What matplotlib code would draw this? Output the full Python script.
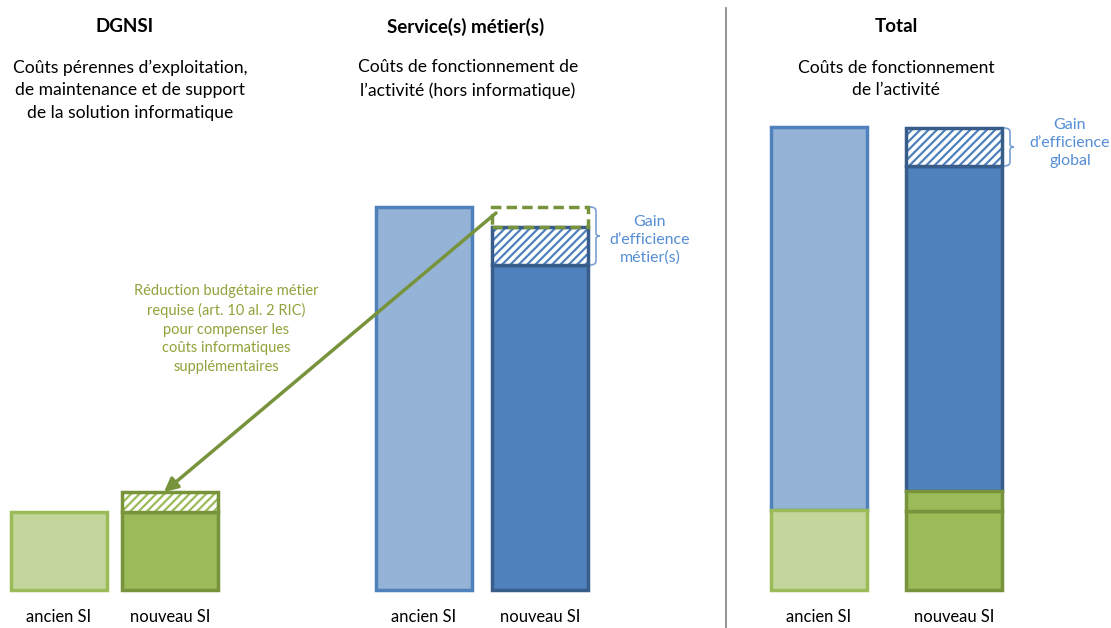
import matplotlib.pyplot as plt
from matplotlib.path import Path
from matplotlib.patches import PathPatch

plt.rcParams['font.family'] = ['Lato', 'DejaVu Sans']
plt.rcParams['hatch.linewidth'] = 1.6

# Données (unités arbitraires, hauteur des barres)
groupes = ['DGNSI', 'Service(s) métier(s)', 'Total']
sous_titres = ['Coûts pérennes d’exploitation,\nde maintenance et de support\nde la solution informatique',
               'Coûts de fonctionnement de\nl’activité (hors informatique)',
               'Coûts de fonctionnement\nde l’activité']
etiquettes = ['ancien SI', 'nouveau SI']

dgnsi_ancien = 78          # coût informatique ancien SI
dgnsi_surcout = 20         # coûts informatiques supplémentaires
metier_ancien = 383        # coût métier ancien SI
metier_reduction = 20      # réduction budgétaire requise
metier_gain = 38           # gain d'efficience métier
metier_nouveau = metier_ancien - metier_reduction - metier_gain

# couleurs
vert_clair, vert, vert_fonce = '#c3d69b', '#9bbb59', '#77933c'
bleu_clair, bleu, bleu_fonce = '#95b3d7', '#4f81bd', '#385d8a'
txt_bleu, txt_vert = '#558ed5', '#8fa33a'

fig = plt.figure(figsize=(11.11, 6.28), dpi=100)
ax = fig.add_axes([0, 0, 1, 1])
ax.set_xlim(0, 1111)
ax.set_ylim(-38, 590)
ax.axis('off')

w = 96
pos = {'dg_a': 59, 'dg_n': 170, 'me_a': 424, 'me_n': 540, 'to_a': 819, 'to_n': 954}

# DGNSI
ax.bar(pos['dg_a'], dgnsi_ancien, w, color=vert_clair, edgecolor=vert, lw=2.5)
ax.bar(pos['dg_n'], dgnsi_ancien, w, color=vert, edgecolor=vert_fonce, lw=2.5)
ax.bar(pos['dg_n'], dgnsi_surcout, w, bottom=dgnsi_ancien, color='white',
       edgecolor=vert, hatch='////', lw=0)
ax.bar(pos['dg_n'], dgnsi_surcout, w, bottom=dgnsi_ancien, fill=False,
       edgecolor=vert_fonce, lw=2.5)

# Service(s) métier(s)
ax.bar(pos['me_a'], metier_ancien, w, color=bleu_clair, edgecolor=bleu, lw=2.5)
ax.bar(pos['me_n'], metier_nouveau, w, color=bleu, edgecolor=bleu_fonce, lw=2.5)
ax.bar(pos['me_n'], metier_gain, w, bottom=metier_nouveau, color='white',
       edgecolor=bleu, hatch='////', lw=0)
ax.bar(pos['me_n'], metier_gain, w, bottom=metier_nouveau, fill=False,
       edgecolor=bleu_fonce, lw=2.5)
ax.bar(pos['me_n'], metier_reduction, w, bottom=metier_nouveau + metier_gain,
       fill=False, edgecolor=vert_fonce, lw=2.5, ls=(0, (3, 1.5)))

# Total
ax.bar(pos['to_a'], metier_ancien, w, bottom=dgnsi_ancien + 2, color=bleu_clair,
       edgecolor=bleu, lw=2.5)
ax.bar(pos['to_a'], dgnsi_ancien + 2, w, color=vert_clair, edgecolor=vert, lw=2.5)
bas = dgnsi_ancien + dgnsi_surcout + 1
ax.bar(pos['to_n'], metier_nouveau, w, bottom=bas, color=bleu,
       edgecolor=bleu_fonce, lw=2.5)
ax.bar(pos['to_n'], metier_gain, w, bottom=bas + metier_nouveau, color='white',
       edgecolor=bleu, hatch='////', lw=0)
ax.bar(pos['to_n'], metier_gain, w, bottom=bas + metier_nouveau, fill=False,
       edgecolor=bleu_fonce, lw=2.5)
ax.bar(pos['to_n'], dgnsi_ancien + 1, w, color=vert, edgecolor=vert_fonce, lw=2.5)
ax.bar(pos['to_n'], dgnsi_surcout, w, bottom=dgnsi_ancien + 1, color=vert,
       edgecolor=vert_fonce, lw=2.5)

# séparateur
ax.plot([726, 726], [-38, 582], color='#7f7f7f', lw=1.2)

# titres
for x, xs, t, s, ys in zip([125, 466, 896], [130, 468, 896], groupes, sous_titres,
                           [500, 511, 511]):
    ax.text(x, 563, t, ha='center', va='center', fontsize=13.5, fontweight='bold')
    ax.text(xs, ys, s, ha='center', va='center', fontsize=12.6, linespacing=1.5)

for k, lab in zip(['dg_a', 'dg_n', 'me_a', 'me_n', 'to_a', 'to_n'], etiquettes * 3):
    ax.text(pos[k], -27, lab, ha='center', va='center', fontsize=11.9)


def accolade(x, y0, y1, larg=10):
    ym = (y0 + y1) / 2
    c = '#7a9fd4'
    verts = [(x, y1), (x + larg * 0.6, y1), (x + larg * 0.6, y1 - 4),
             (x + larg * 0.6, ym + 3), (x + larg * 0.6, ym), (x + larg, ym),
             (x + larg * 0.6, ym), (x + larg * 0.6, ym - 3),
             (x + larg * 0.6, y0 + 4), (x + larg * 0.6, y0), (x, y0)]
    codes = [Path.MOVETO, Path.CURVE3, Path.CURVE3, Path.LINETO, Path.CURVE3, Path.CURVE3,
             Path.CURVE3, Path.CURVE3, Path.LINETO, Path.CURVE3, Path.CURVE3]
    ax.add_patch(PathPatch(Path(verts, codes), fill=False, edgecolor=c, lw=1.2))


xr = pos['me_n'] + w / 2 + 2
accolade(xr, metier_nouveau, metier_ancien)
ax.text(650, (metier_nouveau + metier_ancien) / 2 - 4, 'Gain\nd’efficience\nmétier(s)',
        ha='center', va='center', fontsize=11.5, color=txt_bleu, linespacing=1.33)

xr = pos['to_n'] + w / 2 + 2
accolade(xr, bas + metier_nouveau, bas + metier_nouveau + metier_gain)
ax.text(1070, bas + metier_nouveau + metier_gain / 2 + 4, 'Gain\nd’efficience\nglobal',
        ha='center', va='center', fontsize=11.5, color=txt_bleu, linespacing=1.33)

# flèche
ax.annotate('', xy=(pos['dg_n'] - 6, dgnsi_ancien + dgnsi_surcout),
            xytext=(pos['me_n'] - w / 2 + 4, metier_ancien - 6),
            arrowprops=dict(arrowstyle='-|>,head_length=0.8,head_width=0.4',
                            color=vert_fonce, lw=2.5, shrinkA=0, shrinkB=0))
ax.text(226, 261, 'Réduction budgétaire métier\nrequise (art. 10 al. 2 RIC)\npour compenser les\n'
        'coûts informatiques\nsupplémentaires', ha='center', va='center',
        fontsize=10.5, color=txt_vert, linespacing=1.43)

fig.savefig('out.png', dpi=100)
